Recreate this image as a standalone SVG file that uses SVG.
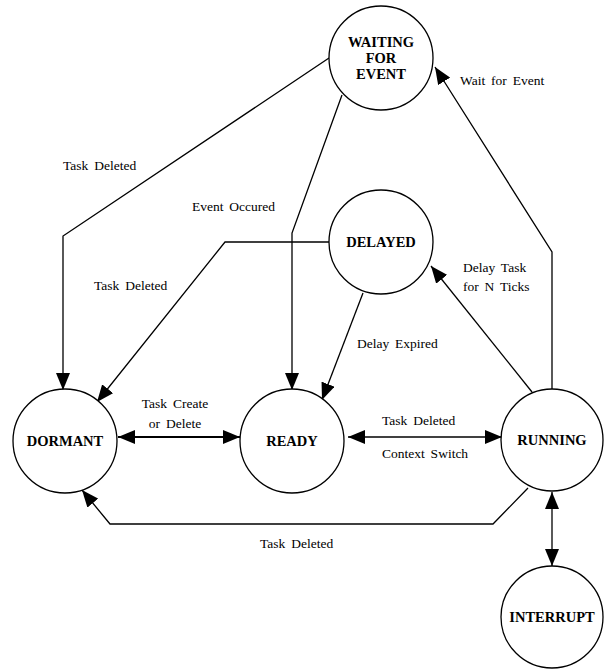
<svg xmlns="http://www.w3.org/2000/svg" width="610" height="669" viewBox="0 0 610 669">
<style>
.node{fill:#fff;stroke:#000;stroke-width:1.3}
.nl{font-family:"Liberation Serif","Times New Roman",serif;font-weight:bold;font-size:14.5px;text-anchor:middle;fill:#000}
.el{font-family:"Liberation Serif","Times New Roman",serif;font-size:13.5px;word-spacing:2.5px;fill:#000}
.edge{fill:none;stroke:#000;stroke-width:1.3}
</style>
<defs>
<marker id="ah" viewBox="0 0 17 14" refX="17" refY="7" markerWidth="17" markerHeight="14" markerUnits="userSpaceOnUse" orient="auto-start-reverse">
<path d="M0,0 L17,7 L0,14 z" fill="#000"/>
</marker>
</defs>
<rect width="610" height="669" fill="#fff"/>
<g id="connectors">
<path class="edge" d="M329,58 L63,236 L63,390" marker-end="url(#ah)"/>
<path class="edge" d="M342,95 L292,233 L292,390" marker-end="url(#ah)"/>
<path class="edge" d="M329,242 L225,242 L97,402" marker-end="url(#ah)"/>
<path class="edge" d="M363,293 L322,400" marker-end="url(#ah)"/>
<path class="edge" d="M532,392 L431,266" marker-end="url(#ah)"/>
<path class="edge" d="M552,390 L552,252 L435,67" marker-end="url(#ah)"/>
<path class="edge" style="stroke-width:2" d="M118,437 L240,437" marker-start="url(#ah)" marker-end="url(#ah)"/>
<path class="edge" d="M348,437 L502,437" marker-start="url(#ah)" marker-end="url(#ah)"/>
<path class="edge" d="M528,488 L493,524 L110,524 L82,490" marker-end="url(#ah)"/>
<path class="edge" d="M552,492 L552,566" marker-start="url(#ah)" marker-end="url(#ah)"/>
<text class="el" x="63" y="170">Task Deleted</text>
<text class="el" x="192" y="211">Event Occured</text>
<text class="el" x="94" y="290">Task Deleted</text>
<text class="el" x="357" y="348">Delay Expired</text>
<text class="el" x="463" y="272">Delay Task</text>
<text class="el" x="463" y="291">for N Ticks</text>
<text class="el" x="460" y="85">Wait for Event</text>
<text class="el" x="175" y="408" text-anchor="middle">Task Create</text>
<text class="el" x="175" y="428" text-anchor="middle">or Delete</text>
<text class="el" x="382" y="425">Task Deleted</text>
<text class="el" x="382" y="458">Context Switch</text>
<text class="el" x="260" y="548">Task Deleted</text>
</g>
<g id="waiting">
<circle class="node" cx="381" cy="58" r="52"/>
<text class="nl" x="381" y="47">WAITING</text>
<text class="nl" x="381" y="63">FOR</text>
<text class="nl" x="381" y="79">EVENT</text>
</g>
<g id="delayed">
<circle class="node" cx="381" cy="242" r="52"/>
<text class="nl" x="381" y="247">DELAYED</text>
</g>
<g id="dormant">
<circle class="node" cx="65" cy="441" r="52"/>
<text class="nl" x="65" y="446">DORMANT</text>
</g>
<g id="ready">
<circle class="node" cx="292" cy="441" r="52"/>
<text class="nl" x="292" y="446">READY</text>
</g>
<g id="running">
<circle class="node" cx="552" cy="440" r="51"/>
<text class="nl" x="552" y="445">RUNNING</text>
</g>
<g id="interrupt">
<circle class="node" cx="552" cy="617" r="51"/>
<text class="nl" x="552" y="622">INTERRUPT</text>
</g>
</svg>
